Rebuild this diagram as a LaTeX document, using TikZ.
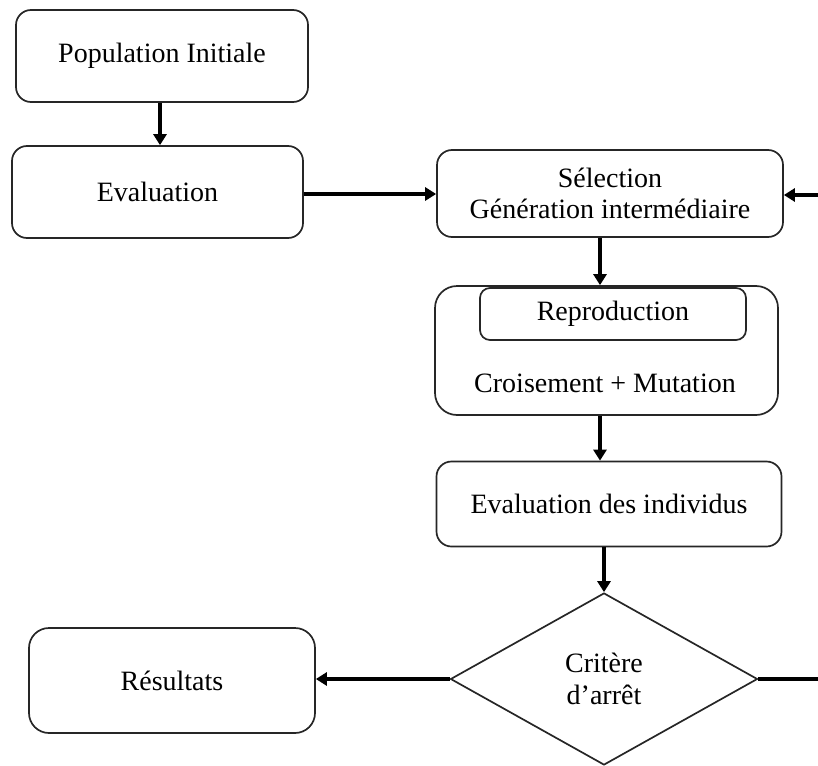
\documentclass[tikz,border=0pt]{standalone}
\usepackage{fontspec}
\setmainfont{Liberation Serif}
\usetikzlibrary{arrows.meta,shapes.geometric}
\begin{document}
\begin{tikzpicture}[x=1pt,y=-1pt,
  box/.style={draw=black!85,line width=1.7pt,rounded corners=15pt,inner sep=0pt,
    align=center,font=\fontsize{28}{31}\selectfont},
  lbl/.style={inner sep=0pt,align=center,font=\fontsize{28}{31}\selectfont},
  dec/.style={draw=black!85,line width=1.7pt,diamond,inner sep=0pt,
    align=center,font=\fontsize{28}{32}\selectfont},
  arr/.style={line width=3.2pt,-{Triangle[length=11pt,width=13pt]}},
  plain/.style={line width=3.2pt}]
\useasboundingbox (0,0) rectangle (818,765);

% main boxes
\node[box,minimum width=292pt,minimum height=92pt] (pop) at (162,56) {Population Initiale};
\node[box,minimum width=291pt,minimum height=92pt] (eval) at (157.5,192) {Evaluation};
\node[box,minimum width=346pt,minimum height=87pt] (sel) at (610,193.5)
  {S\'election\\G\'en\'eration interm\'ediaire};
\node[box,minimum width=343pt,minimum height=129pt,rounded corners=22pt] (repro) at (606.5,350.5) {};
\node[box,minimum width=266pt,minimum height=52pt,rounded corners=10pt] (reprotitle) at (613,314) {Reproduction};
\node[lbl] (crois) at (605,383) {Croisement + Mutation};
\node[box,minimum width=345pt,minimum height=85pt] (evind) at (609,504) {Evaluation des individus};
\node[dec,minimum width=307pt,minimum height=172pt] (crit) at (604,679) {Crit\`ere\\d'arr\^et};
\node[box,minimum width=286pt,minimum height=105pt,rounded corners=20pt] (res) at (172,680.5) {R\'esultats};

% column guides for vertical connectors
\coordinate (colA) at (160,0);
\coordinate (colB) at (600,0);
\coordinate (loopin) at (818,195);
\coordinate (loopout) at (818,679);

% connectors
\draw[arr] (pop.south -| colA) -- (eval.north -| colA);
\draw[arr] (eval.east |- 0,194) -- (sel.west |- 0,194);
\draw[arr] (loopin) -- (sel.east |- loopin);
\draw[arr] (sel.south -| colB) -- (repro.north -| colB);
\draw[arr] (repro.south -| colB) -- (evind.north -| colB);
\draw[arr] (evind.south -| crit.north) -- (crit.north);
\draw[arr] (crit.west) -- (res.east |- crit.west);
\draw[plain] (crit.east) -- (loopout);
\end{tikzpicture}
\end{document}
